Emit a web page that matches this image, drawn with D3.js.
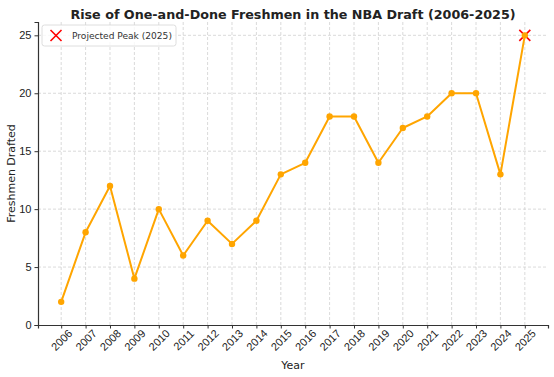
<!DOCTYPE html>
<html>
<head>
<meta charset="utf-8">
<script src="https://cdn.jsdelivr.net/npm/d3@7"></script>
<style>
  body { margin: 0; background: #fff; }
  svg { font-family: "DejaVu Sans", sans-serif; }
</style>
</head>
<body>
<div id="chart"></div>
<script>
// data
const years = [2006, 2007, 2008, 2009, 2010, 2011, 2012, 2013, 2014, 2015,
               2016, 2017, 2018, 2019, 2020, 2021, 2022, 2023, 2024, 2025];
const freshmen = [2, 8, 12, 4, 10, 6, 9, 7, 9, 13,
                  14, 18, 18, 14, 17, 18, 20, 20, 13, 25];
const peakYear = 2025;
const peakValue = 25;
const yTicks = [0, 5, 10, 15, 20, 25];

const W = 554, H = 377;
const margin = { top: 22, right: 6, bottom: 52, left: 38 };
const width = W - margin.left - margin.right;
const height = H - margin.top - margin.bottom;

const svg = d3.select("#chart").append("svg")
  .attr("width", W).attr("height", H);

const g = svg.append("g")
  .attr("transform", `translate(${margin.left},${margin.top})`);

// matplotlib-ish 5% padding on x
const x = d3.scaleLinear().domain([2005.05, 2025.95]).range([0, width]);
const y = d3.scaleLinear().domain([0, 26.15]).range([height, 0]);

// shrink/grow a text node's font so it spans roughly the given width
function fitWidth(sel, target) {
  const fs = +sel.attr("font-size");
  const len = sel.node().getComputedTextLength();
  if (len > 0) sel.attr("font-size", (fs * target / len).toFixed(2));
}

// grid
g.append("g").selectAll("line").data(years).join("line")
  .attr("x1", d => x(d)).attr("x2", d => x(d))
  .attr("y1", 0).attr("y2", height)
  .attr("stroke", "#d0d0d0").attr("stroke-width", 0.8)
  .attr("stroke-dasharray", "3,2");
g.append("g").selectAll("line").data(yTicks.slice(1)).join("line")
  .attr("x1", 0).attr("x2", width)
  .attr("y1", d => y(d)).attr("y2", d => y(d))
  .attr("stroke", "#d0d0d0").attr("stroke-width", 0.8)
  .attr("stroke-dasharray", "3,2");

// axes
const xAxis = g.append("g")
  .attr("transform", `translate(0,${height})`)
  .call(d3.axisBottom(x).tickValues(years).tickFormat(d3.format("d")).tickSize(3.5));
xAxis.selectAll("text")
  .attr("font-size", 11).attr("fill", "#222")
  .attr("text-anchor", "middle")
  .attr("y", 0).attr("dy", "0.35em")
  .attr("transform", "translate(0,15) rotate(-45)");

const yAxis = g.append("g")
  .call(d3.axisLeft(y).tickValues(yTicks).tickSize(3.5).tickPadding(3));
yAxis.selectAll("text").attr("font-size", 11).attr("fill", "#222");

[xAxis, yAxis].forEach(a => {
  a.select(".domain").attr("stroke", "#333").attr("stroke-width", 1.2);
  a.selectAll(".tick line").attr("stroke", "#333");
});

// projected peak marker (under the line)
const xs = 5.5;
const peak = g.append("g")
  .attr("transform", `translate(${x(peakYear)},${y(peakValue)})`)
  .attr("stroke", "#ff0000").attr("stroke-width", 1.6);
peak.append("line").attr("x1", -xs).attr("y1", -xs).attr("x2", xs).attr("y2", xs);
peak.append("line").attr("x1", -xs).attr("y1", xs).attr("x2", xs).attr("y2", -xs);

// line + points
const data = years.map((yr, i) => ({ year: yr, value: freshmen[i] }));
g.append("path").datum(data)
  .attr("fill", "none")
  .attr("stroke", "#ffa500").attr("stroke-width", 2)
  .attr("stroke-linejoin", "round")
  .attr("d", d3.line().x(d => x(d.year)).y(d => y(d.value)));
g.selectAll("circle.pt").data(data).join("circle")
  .attr("class", "pt")
  .attr("cx", d => x(d.year)).attr("cy", d => y(d.value))
  .attr("r", 3.2).attr("fill", "#ffa500");

// legend
const lg = g.append("g").attr("transform", "translate(4,3)");
lg.append("rect")
  .attr("width", 134).attr("height", 21).attr("rx", 2.5)
  .attr("fill", "#fff").attr("fill-opacity", 0.8)
  .attr("stroke", "#d5d5d5").attr("stroke-width", 0.8);
const lx = lg.append("g").attr("transform", "translate(14,10.5)")
  .attr("stroke", "#ff0000").attr("stroke-width", 1.6);
lx.append("line").attr("x1", -xs).attr("y1", -xs).attr("x2", xs).attr("y2", xs);
lx.append("line").attr("x1", -xs).attr("y1", xs).attr("x2", xs).attr("y2", -xs);
const legText = lg.append("text").attr("x", 30).attr("y", 10.5).attr("dy", "0.35em")
  .attr("font-size", 10).attr("fill", "#333")
  .text("Projected Peak (2025)");
fitWidth(legText, 100);

// title + labels
const title = svg.append("text")
  .attr("x", margin.left + width / 2).attr("y", 18.5)
  .attr("text-anchor", "middle")
  .attr("font-size", 12.6).attr("font-weight", "bold").attr("fill", "#222")
  .text("Rise of One-and-Done Freshmen in the NBA Draft (2006-2025)");
fitWidth(title, 445);
svg.append("text")
  .attr("x", margin.left + width / 2).attr("y", 369)
  .attr("text-anchor", "middle")
  .attr("font-size", 11).attr("fill", "#222")
  .text("Year");
svg.append("text")
  .attr("transform", `translate(15,${margin.top + height / 2}) rotate(-90)`)
  .attr("text-anchor", "middle")
  .attr("font-size", 11).attr("fill", "#222")
  .text("Freshmen Drafted");
</script>
</body>
</html>
